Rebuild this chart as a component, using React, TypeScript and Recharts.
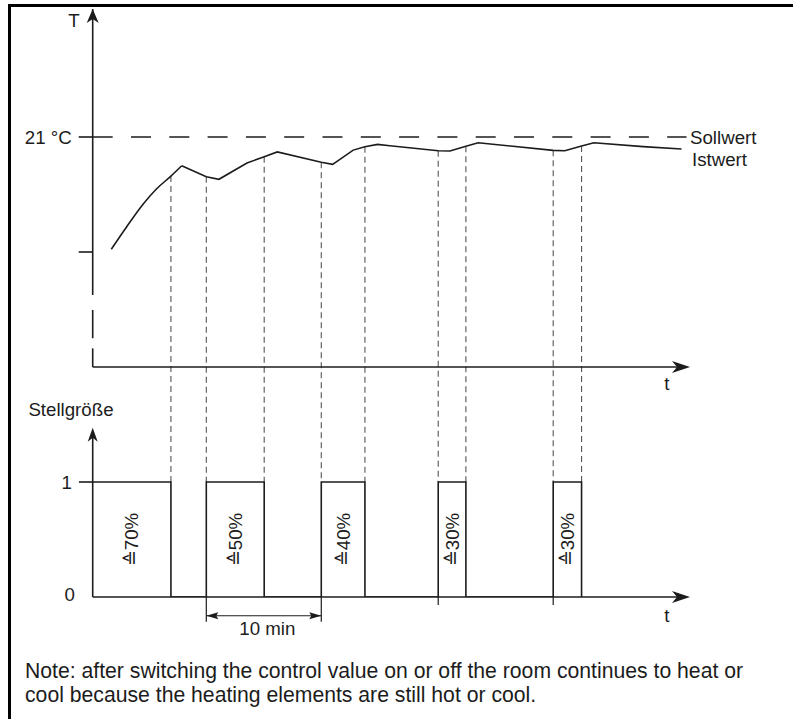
import React from 'react';
import { ComposedChart, Line, XAxis, YAxis, ReferenceLine, ReferenceDot, Scatter } from 'recharts';

const FONT = '"Liberation Sans", Arial, Helvetica, sans-serif';
const INK = '#1c1c1c';
const GUIDE = '#555555';
const FS = 18.7;

// ---- axes (time in minutes, temperature in °C, control value 0/1)
const timeDomain: [number, number] = [0, 52];
const tempDomain: [number, number] = [1, 26.565];
const ctrlDomain: [number, number] = [0, 5.113];
const tempTicks = [16, 21];

// ---- setpoint (Sollwert)
const setpointTime = [0, 51.7];
const setpointTemp = [21, 21];

// ---- actual temperature (Istwert)
const actualTime = [1.62, 2.96, 4.40, 5.57, 6.81, 7.75, 9.89, 10.99, 13.43, 14.93, 16.07, 19.90, 20.89, 22.68, 23.70, 24.80, 25.87, 30.08, 31.10, 32.49, 33.56, 40.09, 41.10, 42.56, 43.63, 47.92, 51.26];
const actualTemp = [16.12, 17.10, 18.09, 18.75, 19.30, 19.75, 19.27, 19.16, 19.87, 20.14, 20.35, 19.90, 19.81, 20.43, 20.58, 20.68, 20.62, 20.40, 20.39, 20.60, 20.75, 20.42, 20.40, 20.61, 20.75, 20.58, 20.48];
const warmUpEnd = 5; // index of the first peak: the warm-up part is drawn smooth

// ---- control value pulses (Stellgröße)
const pulseOn = [0, 9.89, 19.90, 30.08, 40.09];
const pulseOff = [6.81, 14.93, 23.70, 32.49, 42.56];
const dutyLabels = ['≙70%', '≙50%', '≙40%', '≙30%', '≙30%'];

// ---- axis decorations
const tempAxisPieces: [number, number][] = [[26.565, 14.13], [13.48, 12.25], [11.81, 11]];
const tempAxisBase = 11;
const ctrlAxisTop = 1.472;

const sToT = (s: number) =>
  tempDomain[0] + ((s - ctrlDomain[0]) * (tempDomain[1] - tempDomain[0])) / (ctrlDomain[1] - ctrlDomain[0]);

const actualData = actualTime.map((t, i) => ({ t, T: actualTemp[i] }));
const warmUpData = actualData.slice(0, warmUpEnd + 1);
const cyclingData = actualData.slice(warmUpEnd);
const setpointData = setpointTime.map((t, i) => ({ t, T: setpointTemp[i] }));
const pulseData = pulseOn.flatMap((on, i) => [{ t: on, s: 1 }, { t: pulseOff[i], s: 0 }]);
const labelData = pulseOn.map((on, i) => ({ t: (on + pulseOff[i]) / 2, s: 0.5, label: dutyLabels[i] }));
const switchTimes = [...pulseOn.slice(1), ...pulseOff].sort((a, b) => a - b);
const tempAt = (t: number) => actualTemp[actualTime.indexOf(t)];

type Dir = 'up' | 'right' | 'left';
const arrow = (dir: Dir, len: number, half: number, notch: number) => (p: any) => {
  const { cx, cy } = p;
  const local: [number, number][] = [[0, 0], [-len, -half], [-len + notch, 0], [-len, half]];
  const pts = local.map(([x, y]) => (dir === 'right' ? [x, y] : dir === 'left' ? [-x, y] : [y, -x]));
  const d = pts.map(([x, y], i) => `${i ? 'L' : 'M'}${cx + x},${cy + y}`).join(' ') + ' Z';
  return <path d={d} fill={INK} stroke="none" />;
};

const textAt = (key: string, t: number, v: number, axis: 'T' | 'S', value: string, position: any = 'center', offset = 0) => (
  <ReferenceDot
    key={key}
    x={t}
    y={v}
    yAxisId={axis}
    r={0}
    fill="none"
    stroke="none"
    ifOverflow="visible"
    label={{ value, position, offset, fill: INK, fontSize: FS, fontFamily: FONT }}
  />
);

const seg = (key: string, axis: 'T' | 'S', x1: number, y1: number, x2: number, y2: number, extra: any = {}) => (
  <ReferenceLine
    key={key}
    yAxisId={axis}
    segment={[{ x: x1, y: y1 }, { x: x2, y: y2 }]}
    stroke={INK}
    strokeWidth={1.6}
    ifOverflow="visible"
    {...extra}
  />
);

export default function App() {
  return (
    <div style={{ position: 'absolute', left: 0, top: 0, width: 793, height: 719, background: '#fff', fontFamily: FONT }}>
      <div style={{ position: 'absolute', left: 8, top: 4, width: 785, height: 2.7, background: '#000' }} />
      <div style={{ position: 'absolute', left: 8.3, top: 4, width: 2.7, height: 715, background: '#000' }} />
      <div style={{ position: 'absolute', left: 0, top: 0 }}>
        <ComposedChart width={793} height={719} margin={{ top: 9, right: 103, bottom: 122, left: 12.7 }}>
          <XAxis type="number" dataKey="t" domain={timeDomain} allowDataOverflow hide />
          <YAxis
            yAxisId="T"
            type="number"
            domain={tempDomain}
            allowDataOverflow
            width={80}
            ticks={tempTicks}
            interval={0}
            tickSize={14}
            tickMargin={7}
            axisLine={false}
            tickLine={{ stroke: INK, strokeWidth: 1.6 }}
            tickFormatter={(v: number) => (v === 21 ? '21 °C' : '')}
            tick={{ fill: INK, fontSize: FS, fontFamily: FONT }}
          />
          <YAxis yAxisId="S" type="number" domain={ctrlDomain} allowDataOverflow hide width={0} />

          {/* guide lines from switching instants to the curve */}
          {switchTimes.map((t, i) => (
            <ReferenceLine
              key={'g' + i}
              yAxisId="T"
              segment={[{ x: t, y: tempAt(t) }, { x: t, y: sToT(1) }]}
              stroke={GUIDE}
              strokeWidth={1.1}
              strokeDasharray="6 4"
              ifOverflow="visible"
            />
          ))}

          {/* temperature axis (broken) */}
          {tempAxisPieces.map(([a, b], i) => seg('ta' + i, 'T', 0, a, 0, b))}
          {seg('tx', 'T', 0, tempAxisBase, timeDomain[1] - 0.5, tempAxisBase)}
          {/* control axis */}
          {seg('sa', 'S', 0, 0, 0, ctrlAxisTop - 0.05)}
          {seg('sx', 'S', 0, 0, timeDomain[1] - 0.5, 0)}
          {seg('s1', 'S', -1.2, 1, 0, 1, { label: { value: '1', position: 'left', offset: 7, fill: INK, fontSize: FS, fontFamily: FONT } })}
          {/* dimension 10 min */}
          {seg('d1', 'S', pulseOn[1], 0, pulseOn[1], -0.215, { strokeWidth: 1.2 })}
          {seg('d2', 'S', pulseOn[2], 0, pulseOn[2], -0.215, { strokeWidth: 1.2 })}
          {seg('d3', 'S', pulseOn[1], -0.163, pulseOn[2], -0.163, { strokeWidth: 1.2 })}
          {seg('k1', 'S', pulseOn[3], 0, pulseOn[3], -0.07, { strokeWidth: 1.2 })}
          {seg('k2', 'S', pulseOn[4], 0, pulseOn[4], -0.07, { strokeWidth: 1.2 })}

          <Line data={setpointData} dataKey="T" yAxisId="T" type="linear" dot={false} stroke={INK} strokeWidth={1.6} strokeDasharray="20 18.3" isAnimationActive={false} />
          <Line data={warmUpData} dataKey="T" yAxisId="T" type="monotone" dot={false} stroke={INK} strokeWidth={1.6} isAnimationActive={false} />
          <Line data={cyclingData} dataKey="T" yAxisId="T" type="linear" dot={false} stroke={INK} strokeWidth={1.6} isAnimationActive={false} />
          <Line data={pulseData} dataKey="s" yAxisId="S" type="stepAfter" dot={false} stroke={INK} strokeWidth={1.6} isAnimationActive={false} />
          <Scatter
            data={labelData}
            dataKey="s"
            yAxisId="S"
            isAnimationActive={false}
            shape={(p: any) => (
              <text
                x={p.cx}
                y={p.cy}
                dy="0.355em"
                transform={`rotate(-90 ${p.cx} ${p.cy})`}
                textAnchor="middle"
                fontSize={FS}
                fontFamily={FONT}
                fill={INK}
              >
                {(p.payload && p.payload.label) || p.label}
              </text>
            )}
          />

          {/* arrow heads */}
          <ReferenceDot x={0} y={tempDomain[1]} yAxisId="T" r={0} ifOverflow="visible" shape={arrow('up', 14, 6, 4)} />
          <ReferenceDot x={timeDomain[1]} y={tempAxisBase} yAxisId="T" r={0} ifOverflow="visible" shape={arrow('right', 18, 6, 5)} />
          <ReferenceDot x={0} y={ctrlAxisTop} yAxisId="S" r={0} ifOverflow="visible" shape={arrow('up', 14, 5, 4)} />
          <ReferenceDot x={timeDomain[1]} y={0} yAxisId="S" r={0} ifOverflow="visible" shape={arrow('right', 18, 6, 5)} />
          <ReferenceDot x={pulseOn[1]} y={-0.163} yAxisId="S" r={0} ifOverflow="visible" shape={arrow('left', 12, 3.5, 2)} />
          <ReferenceDot x={pulseOn[2]} y={-0.163} yAxisId="S" r={0} ifOverflow="visible" shape={arrow('right', 12, 3.5, 2)} />

          {/* texts */}
          {textAt('lT', -1.63, 26.09, 'T', 'T')}
          {textAt('lSoll', 52.0, 21, 'T', 'Sollwert', 'right', 0)}
          {textAt('lIst', 52.17, 20.01, 'T', 'Istwert', 'right', 0)}
          {textAt('lt1', 49.98, 10.29, 'T', 't')}
          {textAt('lStell', -5.6, 1.635, 'S', 'Stellgröße', 'right', 0)}
          {textAt('l0', -1.54, 0.026, 'S', '0', 'left', 0)}
          {textAt('lt2', 49.98, -0.157, 'S', 't')}
          {textAt('l10', 15.2, -0.273, 'S', '10 min')}
        </ComposedChart>
      </div>
      <div
        style={{
          position: 'absolute',
          left: 25,
          top: 659,
          fontSize: 21.2,
          lineHeight: '24px',
          color: INK,
          whiteSpace: 'nowrap',
          fontFamily: FONT,
        }}
      >
        Note: after switching the control value on or off the room continues to heat or
        <br />
        cool because the heating elements are still hot or cool.
      </div>
    </div>
  );
}
